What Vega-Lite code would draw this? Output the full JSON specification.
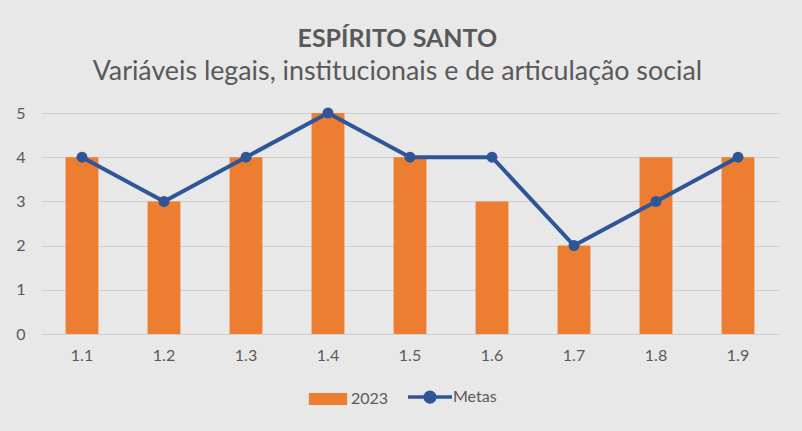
{
  "$schema": "https://vega.github.io/schema/vega-lite/v6.json",
  "width": 738,
  "height": 221,
  "autosize": {"type": "none"},
  "padding": {"left": 41, "top": 113, "right": 23, "bottom": 97},
  "background": "#e8e8e8",
  "config": {
    "view": {"stroke": null},
    "font": "Lato",
    "axis": {"labelFont": "Lato", "labelColor": "#595959", "labelFontSize": 16, "titleFont": "Lato"},
    "legend": {"labelFont": "Lato"}
  },
  "title": {
    "text": "ESPÍRITO SANTO",
    "subtitle": "Variáveis legais, institucionais e de articulação social",
    "anchor": "middle",
    "frame": "bounds",
    "font": "Lato",
    "fontSize": 25,
    "fontWeight": "bold",
    "color": "#595959",
    "subtitleFont": "Lato",
    "subtitleFontSize": 26.8,
    "subtitleColor": "#595959",
    "subtitlePadding": 7,
    "offset": 19
  },
  "data": {
    "values": [
      {"meta": "1.1", "serie": "2023", "valor": 4},
      {"meta": "1.2", "serie": "2023", "valor": 3},
      {"meta": "1.3", "serie": "2023", "valor": 4},
      {"meta": "1.4", "serie": "2023", "valor": 5},
      {"meta": "1.5", "serie": "2023", "valor": 4},
      {"meta": "1.6", "serie": "2023", "valor": 3},
      {"meta": "1.7", "serie": "2023", "valor": 2},
      {"meta": "1.8", "serie": "2023", "valor": 4},
      {"meta": "1.9", "serie": "2023", "valor": 4},
      {"meta": "1.1", "serie": "Metas", "valor": 4},
      {"meta": "1.2", "serie": "Metas", "valor": 3},
      {"meta": "1.3", "serie": "Metas", "valor": 4},
      {"meta": "1.4", "serie": "Metas", "valor": 5},
      {"meta": "1.5", "serie": "Metas", "valor": 4},
      {"meta": "1.6", "serie": "Metas", "valor": 4},
      {"meta": "1.7", "serie": "Metas", "valor": 2},
      {"meta": "1.8", "serie": "Metas", "valor": 3},
      {"meta": "1.9", "serie": "Metas", "valor": 4}
    ]
  },
  "encoding": {
    "x": {
      "field": "meta", "type": "ordinal",
      "scale": {"paddingInner": 0.6, "paddingOuter": 0.3},
      "axis": {"title": null, "labelAngle": 0, "ticks": false, "domain": false, "labelPadding": 13}
    },
    "y": {
      "field": "valor", "type": "quantitative",
      "scale": {"domain": [0, 5]},
      "axis": {"title": null, "tickCount": 5, "ticks": false, "domain": false, "gridColor": "#d0d0d0", "gridWidth": 1, "labelPadding": 16}
    },
    "color": {
      "field": "serie", "type": "nominal",
      "scale": {"domain": ["2023", "Metas"], "range": ["#ed7d31", "#2f5597"]},
      "legend": {
        "title": null,
        "orient": "none",
        "legendX": 279,
        "legendY": 276,
        "padding": 0,
        "direction": "horizontal",
        "labelFontSize": 16,
        "labelColor": "#595959",
        "symbolSize": 1936,
        "columnPadding": 12,
        "labelOffset": 15,
        "encode": {
          "symbols": {
            "update": {
              "shape": {"signal": "datum.value === '2023' ? 'M-0.87,-0.27H0.87V0.27H-0.87Z' : 'M-1,0H1M0.22,0A0.22,0.22,0,1,1,-0.22,0A0.22,0.22,0,1,1,0.22,0Z'"},
              "fill": {"scale": "color", "field": "value"},
              "stroke": {"scale": "color", "field": "value"},
              "strokeWidth": {"signal": "datum.value === '2023' ? 0 : 3.5"},
              "opacity": {"value": 1}
            }
          }
        }
      }
    }
  },
  "layer": [
    {
      "transform": [{"filter": "datum.serie === '2023'"}],
      "mark": {"type": "bar", "opacity": 1}
    },
    {
      "transform": [{"filter": "datum.serie === 'Metas'"}],
      "mark": {"type": "line", "strokeWidth": 4, "point": {"size": 120, "filled": true, "opacity": 1}}
    }
  ]
}
